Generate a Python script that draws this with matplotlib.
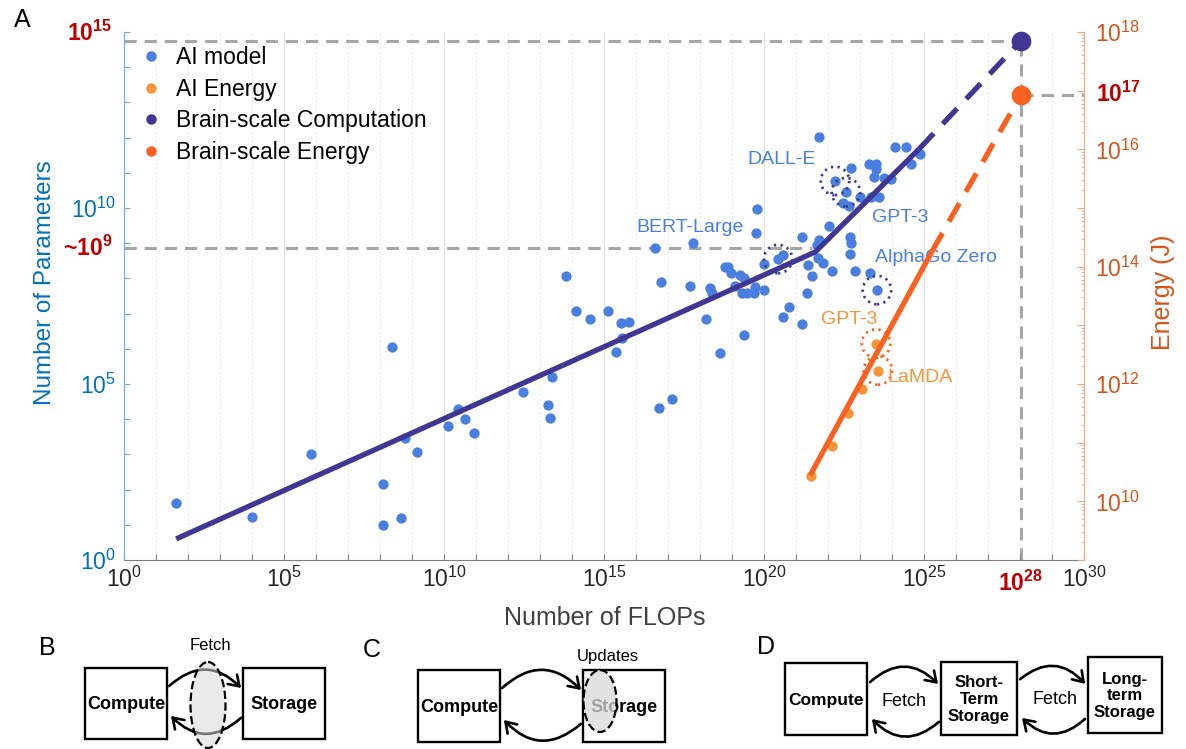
import numpy as np
import matplotlib
matplotlib.use("Agg")
import matplotlib.pyplot as plt
import matplotlib.transforms as mtransforms
from matplotlib.lines import Line2D
from matplotlib.patches import Rectangle, Ellipse, FancyArrowPatch
from matplotlib.ticker import FixedLocator, NullLocator, LogLocator

plt.rcParams['font.family'] = ['Liberation Sans', 'DejaVu Sans']
plt.rcParams['mathtext.fontset'] = 'custom'
plt.rcParams['mathtext.rm'] = 'Liberation Sans'
plt.rcParams['mathtext.bf'] = 'Liberation Sans:bold'
plt.rcParams['mathtext.it'] = 'Liberation Sans:italic'

# AI models: log10(FLOPs), log10(number of parameters)
model_flops_exp = [
    1.63, 4.0, 5.84, 8.38, 8.09, 8.09, 8.66, 8.78, 9.16, 10.13, 10.44, 10.66, 10.94,
    12.47, 13.38, 13.25, 13.31, 13.81, 14.13, 14.56, 15.13, 15.53, 15.78, 15.56, 15.38,
    16.72, 17.13, 16.59, 16.78, 17.78, 17.69, 18.31, 18.38, 18.19, 18.63, 18.78, 18.88,
    18.97, 19.25, 19.38, 19.09, 19.31, 19.47, 19.72, 19.69, 20.0, 19.38, 19.75, 20.0,
    20.59, 20.59, 20.78, 21.19, 21.19, 21.34, 21.5, 21.38, 21.66,
    21.72, 24.09, 24.44, 24.88, 24.59, 23.28, 23.5, 22.72, 23.5, 23.44, 23.75, 23.97,
    23.0, 23.34, 23.59, 22.47, 22.66, 19.78, 22.03, 21.72, 22.69, 22.72, 22.69,
    21.69, 21.84, 22.13, 22.84, 23.31,
]
model_params_exp = [
    1.62, 1.22, 3.01, 6.05, 2.16, 0.99, 1.19, 3.47, 3.07, 3.81, 4.29, 4.01, 3.61,
    4.77, 5.20, 4.40, 4.03, 8.07, 7.07, 6.85, 7.07, 6.73, 6.76, 6.31, 5.91,
    4.32, 4.57, 8.86, 7.90, 9.01, 7.78, 7.73, 7.59, 6.85, 5.88, 8.32, 8.32,
    8.15, 8.10, 8.01, 7.78, 7.59, 7.59, 7.76, 7.59, 7.67, 6.39, 9.29, 8.41,
    8.66, 6.90, 7.19, 6.70, 9.18, 7.59, 8.07, 8.38, 8.95,
    12.02, 11.73, 11.73, 11.53, 11.25, 11.25, 11.25, 11.14, 11.11, 10.88, 10.85, 10.82,
    10.31, 10.31, 10.31, 10.14, 10.06, 9.97, 9.49, 9.09, 9.18, 9.01, 8.69,
    8.58, 8.44, 8.21, 8.21, 8.15,
]

# named models (circled)
named_models = ['DALL-E', 'GPT-3', 'BERT-Large', 'AlphaGo Zero']
named_flops_exp = [22.22, 22.56, 20.44, 23.53]
named_params_exp = [10.77, 10.45, 8.55, 7.67]

# AI training energy: log10(FLOPs), log10(J)
energy_flops_exp = [21.46, 22.12, 22.62, 23.06]
energy_joule_exp = [10.44, 10.95, 11.50, 11.92]
named_energy = ['GPT-3', 'LaMDA']
named_energy_flops_exp = [23.5, 23.56]
named_energy_joule_exp = [12.69, 12.23]

# trend lines
comp_trend_x = [1.63, 21.6, 24.85]
comp_trend_y = [0.6, 8.75, 11.68]
comp_proj_x = [24.85, 28.03]
comp_proj_y = [11.68, 14.75]
energy_trend_x = [21.44, 25.25]
energy_trend_y = [10.44, 14.26]
energy_proj_x = [25.25, 28.03]
energy_proj_y = [14.26, 16.93]

# brain scale
brain_flops_exp = 28.03
brain_params_exp = 14.75
brain_energy_exp = 16.93
params_ref_exp = 8.85

BLUE = '#4a7fe0'
ORANGE = '#f7953a'
PURPLE = '#3f3793'
RED_ORANGE = '#fa601e'
DARKRED = '#c00000'
GRAY = '#a6a6a6'

W, H = 1186, 749
fig = plt.figure(figsize=(W / 100, H / 100), dpi=100)

# ---- bottom diagrams (pixel coordinates) ----
dax = fig.add_axes([0, 0, 1, 1], zorder=-1)
dax.set_xlim(0, W)
dax.set_ylim(H, 0)
dax.axis('off')


def box(x0, y0, x1, y1, label, fs=13):
    dax.add_patch(Rectangle((x0, y0), x1 - x0, y1 - y0, fill=False, ec='k', lw=1.7))
    dax.text((x0 + x1) / 2, (y0 + y1) / 2 + 1, label, ha='center', va='center',
             fontsize=fs, fontweight='bold', linespacing=1.15)


def arc(p0, p1):
    dax.add_patch(FancyArrowPatch(p0, p1, connectionstyle='arc3,rad=-0.5',
                                  arrowstyle='->,head_length=0.45,head_width=0.3',
                                  mutation_scale=16, lw=1.9, color='k'))


# B
dax.text(47, 648, 'B', fontsize=18, ha='center', va='center')
box(85, 668, 167, 739, 'Compute')
box(243, 668, 325, 739, 'Storage')
arc((167, 688), (243, 690))
arc((243, 716), (169, 714))
dax.add_patch(Ellipse((208, 705), 35, 86, fc=(0.85, 0.85, 0.85, 0.55), ec='k', ls='--', lw=1.6, zorder=4))
dax.text(210, 646, 'Fetch', fontsize=12, ha='center', va='center')

# C
dax.text(372, 650, 'C', fontsize=18, ha='center', va='center')
box(418, 670, 500, 742, 'Compute')
box(583, 670, 665, 742, 'Storage')
arc((500, 690), (583, 692))
arc((583, 722), (502, 718))
dax.add_patch(Ellipse((600, 701), 33, 62, fc=(0.85, 0.85, 0.85, 0.75), ec='k', ls='--', lw=1.6, zorder=4))
dax.text(608, 656, 'Updates', fontsize=12, ha='center', va='center')

# D
dax.text(766, 647, 'D', fontsize=18, ha='center', va='center')
box(785, 663, 867, 735, 'Compute', 12.5)
box(941, 662, 1017, 735, 'Short-\nTerm\nStorage', 12)
box(1088, 657, 1162, 733, 'Long-\nterm\nStorage', 12)
arc((868, 684), (940, 686))
arc((941, 720), (870, 717))
arc((1018, 681), (1087, 686))
arc((1087, 717), (1020, 716))
dax.text(904, 701, 'Fetch', fontsize=13, ha='center', va='center')
dax.text(1055, 700, 'Fetch', fontsize=13, ha='center', va='center')

fig.text(22 / W, 1 - 20 / H, 'A', fontsize=18, ha='center', va='center')

# ---- main chart ----
ax = fig.add_axes([124 / W, 1 - 560 / H, 960 / W, 528 / H])
ax.set_xscale('log')
ax.set_yscale('log')
ax.set_xlim(1e0, 1e30)
ax.set_ylim(1e0, 1e15)

p = lambda v: 10.0 ** np.asarray(v)

for e in range(1, 30):
    ax.axvline(10.0 ** e, color='#e4e4e4' if e % 5 == 0 else '#ececec',
               ls='-' if e % 5 == 0 else (0, (2, 2)), lw=0.8, zorder=0)

gdash = (0, (4, 2.6))
ax.plot([1e0, p(brain_flops_exp)], [p(brain_params_exp)] * 2, color=GRAY, lw=2.2, ls=gdash, zorder=1)
ax.plot([1e0, p(21.5)], [p(params_ref_exp)] * 2, color=GRAY, lw=2.2, ls=gdash, zorder=1)
ax.plot([p(brain_flops_exp)] * 2, [1e0, p(brain_params_exp)], color=GRAY, lw=2.2, ls=gdash, zorder=1)

ax.scatter(p(model_flops_exp), p(model_params_exp), s=55, color=BLUE, lw=0, zorder=2)
ax.scatter(p(named_flops_exp), p(named_params_exp), s=55, color=BLUE, lw=0, zorder=2)
ax.scatter(p(named_flops_exp), p(named_params_exp), s=420, facecolors='none',
           edgecolors=PURPLE, linewidths=2.0, linestyles=(0, (0.8, 1.6)), zorder=3)

ax.plot(p(comp_trend_x), p(comp_trend_y), color=PURPLE, lw=3.8, zorder=4, solid_capstyle='butt')
ax.plot(p(comp_proj_x), p(comp_proj_y), color=PURPLE, lw=3.8, ls=(0, (4, 2.5)), zorder=4)
ax.scatter([p(brain_flops_exp)], [p(brain_params_exp)], s=200, color=PURPLE, lw=0, zorder=5, clip_on=False)

label_pos = {'DALL-E': (20.56, 11.39), 'GPT-3': (24.25, 9.74),
             'BERT-Large': (17.69, 9.46), 'AlphaGo Zero': (25.38, 8.58)}
for name in named_models:
    lx, ly = label_pos[name]
    ax.text(p(lx), p(ly), name, color=BLUE, fontsize=14, ha='center', va='center', zorder=6)

xt = list(range(0, 31))
ax.xaxis.set_major_locator(FixedLocator(p(xt)))
ax.xaxis.set_minor_locator(NullLocator())
ax.set_xticklabels([r'$\mathregular{10^{%d}}$' % e if e % 5 == 0 else '' for e in xt])
yt = list(range(0, 16))
ax.yaxis.set_major_locator(FixedLocator(p(yt)))
ax.yaxis.set_minor_locator(NullLocator())
ax.set_yticklabels([r'$\mathregular{10^{%d}}$' % e if e in (0, 5, 10) else '' for e in yt])
ax.tick_params(axis='x', direction='in', length=4, width=0.8, colors='#7f7f7f',
               labelcolor='#262626', labelsize=16.5, pad=5)
ax.tick_params(axis='y', direction='in', length=4, width=0.8, colors='#62aee6',
               labelcolor='#0072BD', labelsize=16.5, pad=6)
ax.spines['top'].set_visible(False)
ax.spines['right'].set_visible(False)
ax.spines['left'].set_color('#62aee6')
ax.spines['bottom'].set_color('#7f7f7f')

ax2 = ax.twinx()
ax2.set_yscale('log')
ax2.set_ylim(1e9, 1e18)
ax2.plot([p(brain_flops_exp), 1e30], [p(brain_energy_exp)] * 2, color=GRAY, lw=2.2, ls=gdash, zorder=1)
ax2.scatter(p(energy_flops_exp), p(energy_joule_exp), s=55, color=ORANGE, lw=0, zorder=2)
ax2.scatter(p(named_energy_flops_exp), p(named_energy_joule_exp), s=55, color=ORANGE, lw=0, zorder=2)
ax2.scatter(p(named_energy_flops_exp), p(named_energy_joule_exp), s=420, facecolors='none',
            edgecolors=RED_ORANGE, linewidths=2.0, linestyles=(0, (0.8, 1.6)), zorder=3)
ax2.plot(p(energy_trend_x), p(energy_trend_y), color=RED_ORANGE, lw=3.8, zorder=4, solid_capstyle='butt')
ax2.plot(p(energy_proj_x), p(energy_proj_y), color=RED_ORANGE, lw=3.8, ls=(0, (4, 2.5)), zorder=4)
ax2.scatter([p(brain_flops_exp)], [p(brain_energy_exp)], s=200, color=RED_ORANGE, lw=0, zorder=5)
energy_label_pos = {'GPT-3': (22.66, 13.10), 'LaMDA': (24.88, 12.11)}
for name in named_energy:
    lx, ly = energy_label_pos[name]
    ax2.text(p(lx), p(ly), name, color=ORANGE, fontsize=14, ha='center', va='center', zorder=6)

rt = list(range(9, 19))
ax2.yaxis.set_major_locator(FixedLocator(p(rt)))
ax2.yaxis.set_minor_locator(LogLocator(base=10, subs=np.arange(2, 10), numticks=20))
ax2.yaxis.set_minor_formatter(plt.NullFormatter())
ax2.set_yticklabels([r'$\mathregular{10^{%d}}$' % e if e % 2 == 0 else '' for e in rt])
ax2.tick_params(axis='y', which='both', direction='in', colors='#f7a67a',
                labelcolor='#D95319', labelsize=16.5, pad=8)
ax2.tick_params(axis='y', which='major', length=5, width=0.8)
ax2.tick_params(axis='y', which='minor', length=2.5, width=0.6)
for s in ('top', 'left', 'bottom'):
    ax2.spines[s].set_visible(False)
ax2.spines['right'].set_color('#f7a67a')

# highlighted reference values
yblend = mtransforms.blended_transform_factory(ax.transAxes, ax.transData)
xblend = mtransforms.blended_transform_factory(ax.transData, ax.transAxes)
y2blend = mtransforms.blended_transform_factory(ax2.transAxes, ax2.transData)
ax.text(-0.012, 10 ** 14.95, r'$\mathbf{10^{15}}$', transform=yblend, ha='right', va='center',
        fontsize=16.5, color=DARKRED, clip_on=False)
ax.text(-0.012, 10 ** params_ref_exp, r'~$\mathbf{10^{9}}$', transform=yblend, ha='right', va='center',
        fontsize=16.5, fontweight='bold', color=DARKRED, clip_on=False)
ax.text(p(brain_flops_exp), -0.044, r'$\mathbf{10^{28}}$', transform=xblend, ha='center', va='center',
        fontsize=16.5, color=DARKRED, clip_on=False)
ax2.text(1.012, p(brain_energy_exp), r'$\mathbf{10^{17}}$', transform=y2blend, ha='left', va='center',
         fontsize=16.5, color=DARKRED, clip_on=False)

fig.text(605 / W, 1 - 618 / H, 'Number of FLOPs', ha='center', va='center', fontsize=18, color='#404040')
fig.text(45 / W, 1 - 283 / H, 'Number of Parameters', ha='center', va='center', rotation=90,
         fontsize=17.5, color='#0072BD')
fig.text(1163 / W, 1 - 292 / H, 'Energy (J)', ha='center', va='center', rotation=90,
         fontsize=18, color='#D95319')

handles = [Line2D([], [], ls='', marker='o', ms=7.5, color=c, mec='none')
           for c in (BLUE, ORANGE, PURPLE, RED_ORANGE)]
leg = ax2.legend(handles, ['AI model', 'AI Energy', 'Brain-scale Computation', 'Brain-scale Energy'],
                 loc='upper left', bbox_to_anchor=(140 / W, 1 - 46 / H), bbox_transform=fig.transFigure,
                 frameon=False, fontsize=16.5, borderpad=0, handlelength=1.0, handletextpad=0.55,
                 labelspacing=0.38, borderaxespad=0)

fig.savefig('out.png', dpi=100)
